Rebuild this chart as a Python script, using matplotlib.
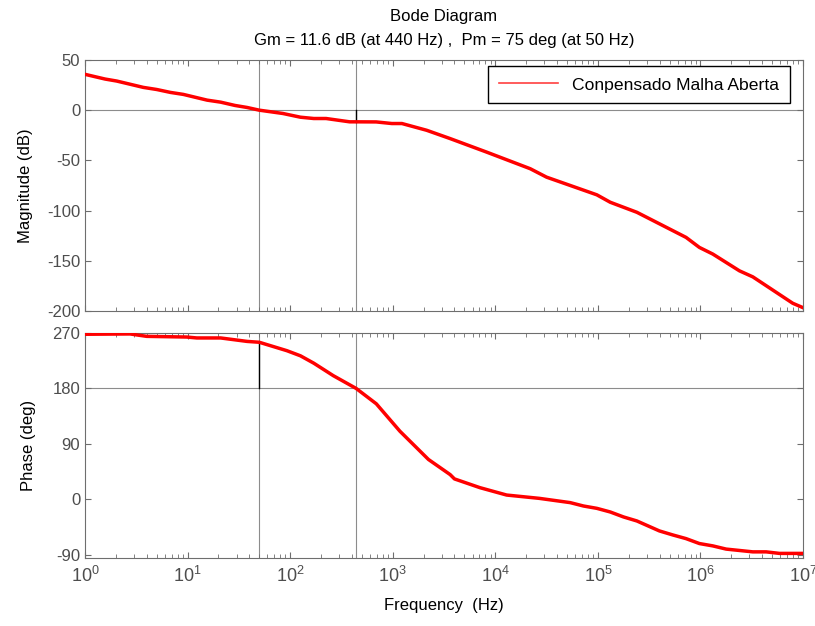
import numpy as np
import matplotlib.pyplot as plt
from matplotlib.lines import Line2D
from matplotlib.ticker import LogLocator, NullFormatter

plt.rcParams['font.family'] = ['Liberation Sans', 'DejaVu Sans']
plt.rcParams['axes.unicode_minus'] = False

freq_mag = [1, 1.57, 2.04, 3.7, 5.0, 6.8, 9.1, 15.5, 21, 29, 38, 50, 85, 126,
            170, 224, 380, 440, 690, 980, 1230, 2140, 3630, 8200, 21900, 31600,
            97700, 132000, 240000, 724000, 977000, 1320000, 2400000, 3240000,
            7940000, 1e7]
mag_db = [35.7, 31, 29, 22.7, 20.6, 17.7, 15.7, 10, 8, 4.7, 2.7, 0, -3.3, -7,
          -8.3, -8.3, -11.6, -11.6, -11.7, -13.3, -13.3, -20, -28.3, -41.7,
          -58.3, -66.7, -84.3, -91.7, -101.7, -126.7, -136.7, -143.3, -160,
          -166, -192.3, -196.7]

freq_phase = [1, 2.75, 4, 9.8, 12.3, 21, 38, 50, 93, 126, 170, 263, 440, 692,
              1175, 2230, 3630, 4000, 7080, 12900, 26900, 53700, 72400, 97700,
              132000, 178000, 240000, 398000, 537000, 724000, 977000, 1320000,
              1780000, 3240000, 4370000, 5890000, 1e7]
phase_deg = [268, 268.5, 264.6, 263.5, 262, 262, 256.4, 255, 241.3, 233, 221,
             200.8, 180, 155, 110.5, 64.6, 40, 33, 18.8, 6.8, 1.4, -5.5, -11,
             -14.8, -20.7, -28.8, -35.3, -51.5, -58, -64, -72, -75.8, -81,
             -85.5, -85.5, -88, -88]

gm_db = 11.6
gm_freq = 440
pm_deg = 75
pm_freq = 50

grid_c = '#8c8c8c'
spine_c = '#6e6e6e'
tick_c = '#4d4d4d'

fig = plt.figure(figsize=(8.15, 6.26), dpi=100)
ax1 = fig.add_axes([0.1043, 0.5032, 0.881, 0.401])
ax2 = fig.add_axes([0.1043, 0.1086, 0.881, 0.3594])

for ax in (ax1, ax2):
    ax.set_xscale('log')
    ax.set_xlim(1, 1e7)
    ax.xaxis.set_major_locator(LogLocator(base=10, numticks=10))
    ax.xaxis.set_minor_locator(LogLocator(base=10, subs=np.arange(2, 10), numticks=10))
    ax.xaxis.set_minor_formatter(NullFormatter())
    ax.tick_params(which='both', direction='in', top=True, right=True,
                   colors=spine_c, labelcolor=tick_c, labelsize=12)
    ax.tick_params(which='major', length=4)
    ax.tick_params(which='minor', length=3)
    for s in ax.spines.values():
        s.set_color(spine_c)

# magnitude
ax1.axhline(0, color=grid_c, lw=0.8, zorder=1)
ax1.axvline(pm_freq, color=grid_c, lw=0.8, zorder=1)
ax1.axvline(gm_freq, color=grid_c, lw=0.8, zorder=1)
ax1.plot([gm_freq, gm_freq], [0, -gm_db], color='black', lw=1, zorder=2)
ax1.plot(freq_mag, mag_db, color='red', lw=2.5, zorder=3)
ax1.set_ylim(-200, 50)
ax1.set_yticks([-200, -150, -100, -50, 0, 50])
ax1.tick_params(labelbottom=False)
ax1.set_ylabel('Magnitude (dB)', fontsize=12, labelpad=10)
ax1.set_title('Bode Diagram\nGm = 11.6 dB (at 440 Hz) ,  Pm = 75 deg (at 50 Hz)',
              fontsize=12, pad=11, linespacing=1.75)

handle = Line2D([], [], color='#ff4040', lw=1.2)
leg = ax1.legend([handle], ['Conpensado Malha Aberta'], loc='upper right',
                 bbox_to_anchor=(0.982, 0.974), fontsize=12.6, fancybox=False,
                 edgecolor='black', framealpha=1, handlelength=3.4,
                 borderpad=0.62, borderaxespad=0)
leg.get_frame().set_linewidth(1.0)

# fase
ax2.axhline(180, color=grid_c, lw=0.8, zorder=1)
ax2.axvline(pm_freq, color=grid_c, lw=0.8, zorder=1)
ax2.axvline(gm_freq, color=grid_c, lw=0.8, zorder=1)
ax2.plot([pm_freq, pm_freq], [180, 180 + pm_deg], color='black', lw=1, zorder=2)
ax2.plot(freq_phase, phase_deg, color='red', lw=2.5, zorder=3)
ax2.set_ylim(-95.5, 270)
ax2.set_yticks([-90, 0, 90, 180, 270])
ax2.set_ylabel('Phase (deg)', fontsize=12, labelpad=12)
ax2.set_xlabel('Frequency  (Hz)', fontsize=12, labelpad=8)
ax2.tick_params(axis='x', labelsize=13, pad=6)

plt.savefig('out.png', dpi=100)
